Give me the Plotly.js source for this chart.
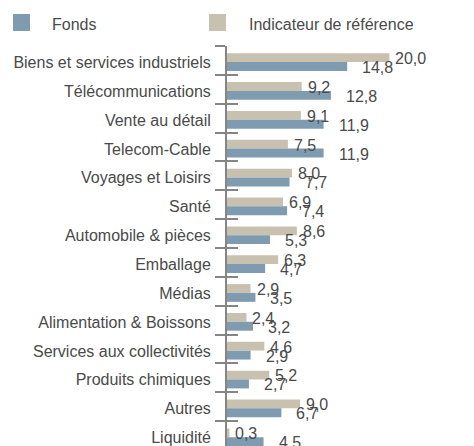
<!DOCTYPE html>
<html>
<head>
<meta charset="utf-8">
<script src="https://cdn.plot.ly/plotly-3.0.1.min.js"></script>
<style>html,body{margin:0;padding:0;background:#fff;}#chart{width:474px;height:446px;}</style>
</head>
<body>
<div id="chart"></div>
<script>
const categories = ['Biens et services industriels','Télécommunications','Vente au détail','Telecom-Cable','Voyages et Loisirs','Santé','Automobile & pièces','Emballage','Médias','Alimentation & Boissons','Services aux collectivités','Produits chimiques','Autres','Liquidité'];
const fonds = [14.8,12.8,11.9,11.9,7.7,7.4,5.3,4.7,3.5,3.2,2.9,2.7,6.7,4.5];
const indicateur = [20.0,9.2,9.1,7.5,8.0,6.9,8.6,6.3,2.9,2.4,4.6,5.2,9.0,0.3];
const seriesNames = ['Fonds','Indicateur de référence'];

const BLUE = '#7f9bb0', BEIGE = '#c9c1af', TXT = '#4a4a4a', AX = '#858585';
const FONT = 'Liberation Sans, Arial, sans-serif';
const fmt = v => v.toFixed(1).replace('.', ',');

const W = 474, H = 446, ML = 227, MT = 46;
const PW = W - ML, PH = H - MT;
const px = x => (x - ML) / PW;
const py = y => 1 - (y - MT) / PH;

const traces = [
  {type:'bar', orientation:'h', name:seriesNames[1], y:categories, x:indicateur,
   marker:{color:BEIGE}, offset:-0.25, width:0.305, hoverinfo:'skip'},
  {type:'bar', orientation:'h', name:seriesNames[0], y:categories, x:fonds,
   marker:{color:BLUE}, offset:0.055, width:0.31, hoverinfo:'skip'},
  {type:'scatter', mode:'none', y:categories, x:fonds, yaxis:'y2', showlegend:false, hoverinfo:'skip'}
];

const annotations = [];
categories.forEach((c, i) => {
  annotations.push({x:indicateur[i], y:c, xref:'x', yref:'y', text:fmt(indicateur[i]), showarrow:false,
    xanchor:'left', yanchor:'middle', xshift:4, yshift:2, font:{family:FONT, size:16, color:TXT}});
  annotations.push({x:fonds[i], y:c, xref:'x', yref:'y', text:fmt(fonds[i]), showarrow:false,
    xanchor:'left', yanchor:'middle', xshift:13, yshift:-7, font:{family:FONT, size:16, color:TXT}});
});
// legend
annotations.push({x:px(50), y:py(24), xref:'paper', yref:'paper', text:seriesNames[0], showarrow:false,
  xanchor:'left', yanchor:'middle', font:{family:FONT, size:16, color:TXT}});
annotations.push({x:px(247), y:py(24), xref:'paper', yref:'paper', text:seriesNames[1], showarrow:false,
  xanchor:'left', yanchor:'middle', font:{family:FONT, size:16, color:TXT}});

const shapes = [
  {type:'rect', xref:'paper', yref:'paper', x0:px(13), x1:px(30), y0:py(14), y1:py(31), fillcolor:BLUE, line:{width:0}},
  {type:'rect', xref:'paper', yref:'paper', x0:px(209), x1:px(226), y0:py(14), y1:py(31), fillcolor:BEIGE, line:{width:0}}
];

const yr = [13.36, -0.5];
const layout = {
  width:W, height:H,
  margin:{l:ML, r:0, t:MT, b:0, pad:0},
  paper_bgcolor:'#fff', plot_bgcolor:'#fff',
  showlegend:false,
  barmode:'overlay',
  font:{family:FONT, size:16, color:TXT},
  xaxis:{range:[0, 30.42], visible:false, fixedrange:true},
  yaxis:{type:'category', categoryorder:'array', categoryarray:categories, range:yr, autorange:false,
    showline:true, linecolor:AX, linewidth:2, ticks:'outside', tickson:'boundaries', ticklen:10,
    tickwidth:2, tickcolor:AX, showgrid:false, zeroline:false,
    tickfont:{family:FONT, size:16, color:TXT}, ticklabelstandoff:11, ticklabelshift:-2},
  yaxis2:{type:'category', categoryorder:'array', categoryarray:categories, range:yr, autorange:false,
    overlaying:'y', side:'left', showline:false, ticks:'inside', tickson:'boundaries', ticklen:11,
    tickwidth:2, tickcolor:AX, showgrid:false, zeroline:false, showticklabels:false},
  annotations:annotations,
  shapes:shapes
};

Plotly.newPlot('chart', traces, layout, {staticPlot:true, displayModeBar:false});
</script>
</body>
</html>
